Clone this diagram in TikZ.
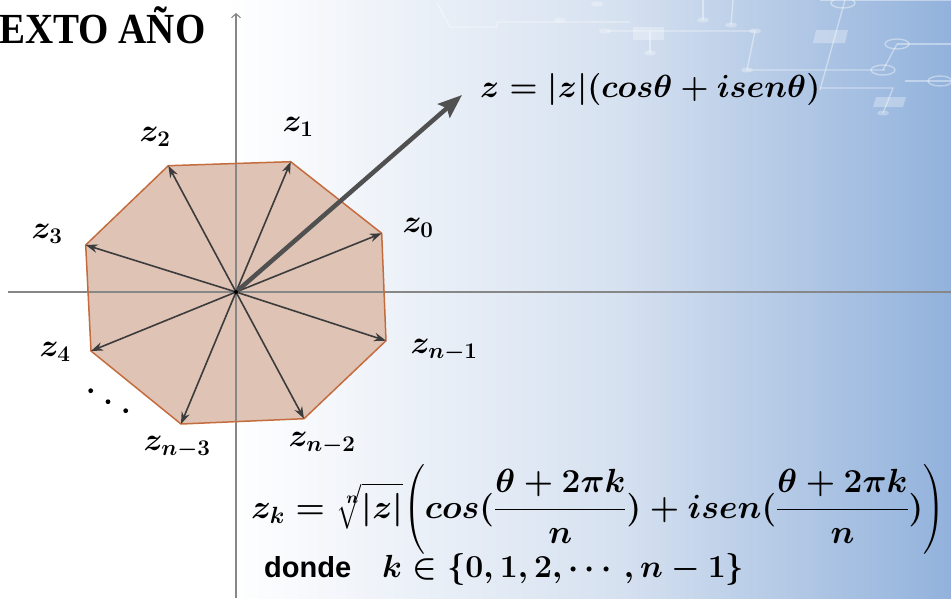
\RequirePackage{fix-cm}
\documentclass[tikz,border=0pt]{standalone}
\usepackage{amsmath}
\usepackage{fontspec}
\newfontfamily\titlefont{Liberation Serif}
\newfontfamily\dondefont{Liberation Sans}
\usetikzlibrary{arrows.meta}
\definecolor{bgblue}{RGB}{146,178,220}
\definecolor{bgmid}{RGB}{214,225,240}
\definecolor{polyfill}{RGB}{223,195,181}
\definecolor{polyedge}{RGB}{196,108,62}
\definecolor{arrowgray}{RGB}{60,60,60}
\definecolor{axisgray}{RGB}{135,135,135}
\tikzset{
  zlab/.style={font=\fontsize{32}{36}\selectfont\boldmath, inner sep=0pt},
  eqlab/.style={font=\fontsize{32}{36}\selectfont\boldmath, inner sep=0pt},
  radial/.style={draw=arrowgray, line width=1.6pt, -{Stealth[length=12pt,width=8.5pt]}},
  axisline/.style={draw=axisgray, line width=1.1pt},
  circuit/.style={draw=white, draw opacity=0.4, line width=1.4pt},
  circuitfill/.style={fill=white, fill opacity=0.3},
}
\begin{document}
\begin{tikzpicture}[x=1pt,y=-1pt]
\useasboundingbox (0,0) rectangle (951,598);
% background
\fill[white] (0,0) rectangle (951,598);
\shade[left color=white, right color=bgmid] (225,0) rectangle (620,598);
\shade[left color=bgmid, right color=bgblue] (619.5,0) rectangle (951,598);
% circuit decoration
\draw[circuit] (437,3) -- (450,27) -- (497,27) -- (497,22) -- (630,22);
\draw[circuit] (607,31) -- (755,31) -- (747,70) -- (885,70);
\draw[circuit] (650,31) -- (650,53);
\draw[circuit] (703,0) -- (703,20);
\draw[circuit] (733,0) -- (731,25);
\draw[circuit] (820,0) -- (951,0);
\draw[circuit] (845,0) -- (820,90);
\draw[circuit] (897,44) -- (951,44);
\draw[circuit] (897,44) -- (883,70);
\draw[circuit] (820,88) -- (893,88) -- (883,113);
\draw[circuit] (905,81) -- (951,81);
\fill[circuitfill] (633,27) rectangle (664,40);
\fill[circuitfill] (816,30) -- (848,30) -- (845,43) -- (813,43) -- cycle;
\fill[circuitfill] (876,97) -- (906,97) -- (903,107) -- (873,107) -- cycle;
\foreach \p in {(560,20),(597,4),(605,31),(650,53),(755,31),(747,70),(883,113),(703,20),(731,25)}
  \fill[circuitfill] \p ellipse (6pt and 2.5pt);
\foreach \p in {(843,3),(897,44),(883,70),(940,81)}
  \draw[circuit] \p ellipse (12pt and 5pt);
% title
\node[anchor=base west, inner sep=0pt, font=\titlefont\bfseries\fontsize{39}{42}\selectfont] (title) at (-1,43) {\scalebox{1}[1.1]{EXTO AÑO}};
% vertices
\coordinate (O) at (236,292);
\coordinate (v0) at (381.7,233.3);
\coordinate (v1) at (290.7,161.7);
\coordinate (v2) at (168.3,165.7);
\coordinate (v3) at (85.7,245);
\coordinate (v4) at (91,351);
\coordinate (vn3) at (181,424);
\coordinate (vn2) at (304,418.7);
\coordinate (vn1) at (386,340.7);
% polygon fill
\fill[polyfill] (v0) -- (v1) -- (v2) -- (v3) -- (v4) -- (vn3) -- (vn2) -- (vn1) -- cycle;
% axes
\coordinate (xl) at (8,292);
\coordinate (xr) at (951,292);
\coordinate (yb) at (236,598);
\coordinate (yt) at (236,13);
\draw[axisline] (xl) -- (xr);
\draw[axisline, -{Straight Barb[length=4pt,width=9pt]}] (yb) -- (yt);
% polygon border
\draw[polyedge, line width=1.5pt, line join=round] (v0) -- (v1) -- (v2) -- (v3) -- (v4) -- (vn3) -- (vn2) -- (vn1) -- cycle;
% radial arrows
\foreach \v in {v0,v1,v2,v3,v4,vn3,vn2,vn1}
  \draw[radial] (O) -- (\v);
% big arrow
\coordinate (ztip) at (462,95);
\draw[draw=arrowgray!90, line width=4.5pt, -{Stealth[length=24pt,width=18pt,inset=4pt]}] (O) -- (ztip);
\fill[black] (O) circle (2pt);
% labels
\node[zlab] (l0) at (418,228) {$z_0$};
\node[zlab] (l1) at (298,127) {$z_1$};
\node[zlab] (l2) at (155,137) {$z_2$};
\node[zlab] (l3) at (47,234) {$z_3$};
\node[zlab] (l4) at (55,352) {$z_4$};
\node[zlab] (ln1) at (444,350) {$z_{n-1}$};
\node[zlab] (ln2) at (322,443) {$z_{n-2}$};
\node[zlab] (ln3) at (177,447) {$z_{n-3}$};
% dots
\foreach \p in {(90.7,390.7),(108,401.7),(125.7,410.7)}
  \fill[black] \p circle (2.4pt);
% equations
\node[eqlab, anchor=base west] (eq1) at (480,97) {$z=|z|(cos\theta+isen\theta)$};
\node[eqlab, font=\fontsize{33.5}{38}\selectfont\boldmath, anchor=base west] (eq2) at (251,518) {$\displaystyle z_k=\sqrt[n]{|z|}\!\left(cos(\frac{\theta+2\pi k}{n})+isen(\frac{\theta+2\pi k}{n})\right)$};
\node[anchor=base west, inner sep=0pt, font=\dondefont\bfseries\fontsize{29}{32}\selectfont] (donde) at (264,577) {donde};
\node[eqlab, anchor=base west] (kset) at (382,577) {$k\in\{0,1,2,\cdots,n-1\}$};
\end{tikzpicture}
\end{document}
